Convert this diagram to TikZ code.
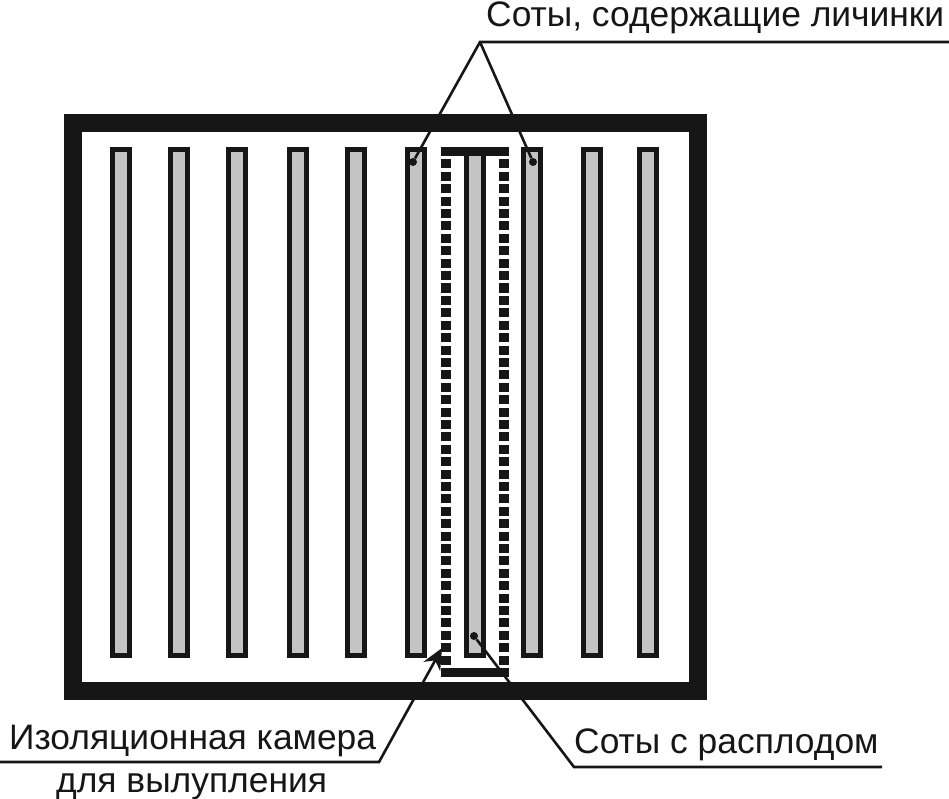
\documentclass[tikz,border=0pt]{standalone}
\usepackage{fontspec}
\usepackage{tikz}
\usetikzlibrary{arrows.meta}
\setmainfont{Liberation Sans}
\definecolor{ink}{HTML}{161616}
\definecolor{wax}{HTML}{C4C4C4}
\tikzstyle{comb}=[rectangle,draw=ink,fill=wax,line width=5pt,minimum width=17pt,minimum height=506pt,inner sep=0pt]
\tikzstyle{hive}=[rectangle,draw=ink,line width=18pt,minimum width=625pt,minimum height=568pt,inner sep=0pt]
\tikzstyle{cell}=[rectangle,fill=ink,minimum width=10pt,minimum height=9pt,inner sep=0pt]
\tikzstyle{bar}=[rectangle,fill=ink,minimum width=68pt,minimum height=9pt,inner sep=0pt]
\tikzstyle{pin}=[circle,fill=ink,minimum size=8pt,inner sep=0pt]
\tikzstyle{caption}=[anchor=base west,inner sep=0pt,font=\fontsize{35.4}{40}\selectfont,text=ink]
\tikzstyle{leader}=[draw=ink,line width=2.6pt]

\begin{document}
\begin{tikzpicture}[x=1pt,y=-1pt]
      \useasboundingbox (0,0) rectangle (949,799);
      % hive body and combs
      \node[hive] (body) at (385.5,407) {};
      \foreach \x [count=\n] in {121,179,237,298,356,416,532,592,648}
        \node[comb] (comb\n) at (\x,402.5) {};
      \node[comb] (brood) at (474.5,402.5) {};
      % isolation chamber
      \node[bar] (lid) at (475,151.5) {};
      \node[bar] (floor) at (475,672.5) {};
      \foreach \k in {0,...,40} {
        \node[cell] (wl\k) at (446,164+12.4*\k) {};
        \node[cell] (wr\k) at (504,164+12.4*\k) {};
      }
      % labels
      \node[caption] (top) at (486,27) {Соты, содержащие личинки};
      \node[caption] (chamber) at (9,749) {Изоляционная камера};
      \node[caption] (chamber2) at (56,792) {для вылупления};
      \node[caption] (broodtext) at (574,753) {Соты с расплодом};
      % leaders
      \node[pin] (p1) at (413,162) {};
      \node[pin] (p2) at (533,162) {};
      \node[pin] (p3) at (474,636) {};
      \coordinate (apex) at (480,42);
      \coordinate (topend) at (949,42);
      \coordinate (bend1) at (379,762);
      \coordinate (end1) at (0,762);
      \coordinate (bend2) at (574,767);
      \coordinate (end2) at (882,767);
      \coordinate (tip) at (442,648);
      \draw[leader] (topend) -- (apex) -- (p1);
      \draw[leader] (apex) -- (p2);
      \draw[leader] (end2) -- (bend2) -- (p3);
      \draw[leader,-{Stealth[length=21pt,width=19pt]}] (end1) -- (bend1) -- (tip);
    \end{tikzpicture}
\end{document}
